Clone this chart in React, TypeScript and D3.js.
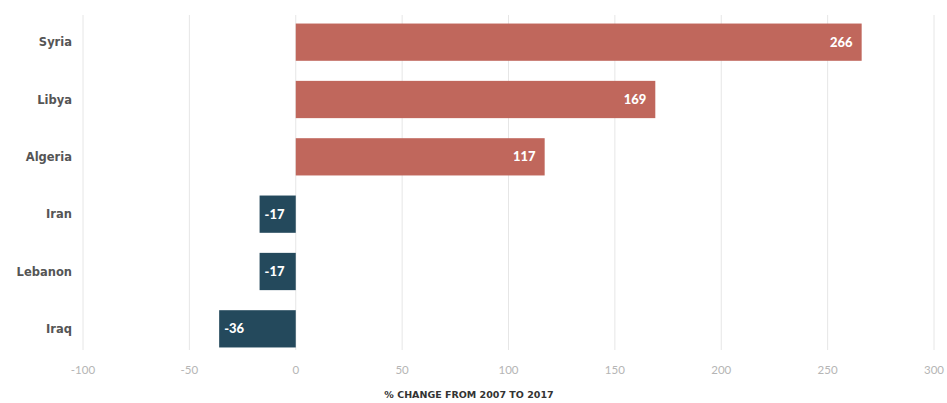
import React from "react";
import * as d3 from "d3";

const countries = ["Syria", "Libya", "Algeria", "Iran", "Lebanon", "Iraq"];
const changes = [266, 169, 117, -17, -17, -36];
const ticks = [-100, -50, 0, 50, 100, 150, 200, 250, 300];
const axisTitle = "% CHANGE FROM 2007 TO 2017";

export default function App() {
  const W = 947, H = 403;
  const x = d3.scaleLinear().domain([-100, 300]).range([83, 934]);
  const y = d3.scaleBand<string>().domain(countries).range([13.5, 357.5]).paddingInner(0.35).paddingOuter(0.175);
  const font = "Lato, 'Open Sans', sans-serif";
  const wide = "'DejaVu Sans', sans-serif";
  return (
    <svg width={W} height={H} style={{ position: "absolute", left: 0, top: 0 }} fontFamily={font}>
      <rect width={W} height={H} fill="#fff" />
      {ticks.map((t) => (
        <g key={t}>
          <line x1={x(t)} x2={x(t)} y1={15} y2={350} stroke="#e6e6e6" strokeWidth={1} />
          <text x={x(t)} y={374} textAnchor="middle" fontSize={11.5} fill="#b5b5b5">{t}</text>
        </g>
      ))}
      {countries.map((c, i) => {
        const v = changes[i];
        const y0 = y(c)!;
        const bh = y.bandwidth();
        const x0 = x(Math.min(0, v));
        const x1 = x(Math.max(0, v));
        const pos = v >= 0;
        return (
          <g key={c}>
            <rect x={x0} y={y0} width={x1 - x0} height={bh} fill={pos ? "#c0675c" : "#24495c"} />
            <text x={pos ? x1 - 9 : x0 + 5} y={y0 + bh / 2 + 4.5} textAnchor={pos ? "end" : "start"} fontSize={13} fontWeight={900} fill="#fff">{v}</text>
            <text x={72} y={y0 + bh / 2 + 4} textAnchor="end" fontSize={11.5} fontWeight="bold" fontFamily={wide} fill="#555">{c}</text>
          </g>
        );
      })}
      <text x={469} y={398} textAnchor="middle" fontSize={9.5} fontWeight="bold" fontFamily={wide} fill="#333">{axisTitle}</text>
    </svg>
  );
}
